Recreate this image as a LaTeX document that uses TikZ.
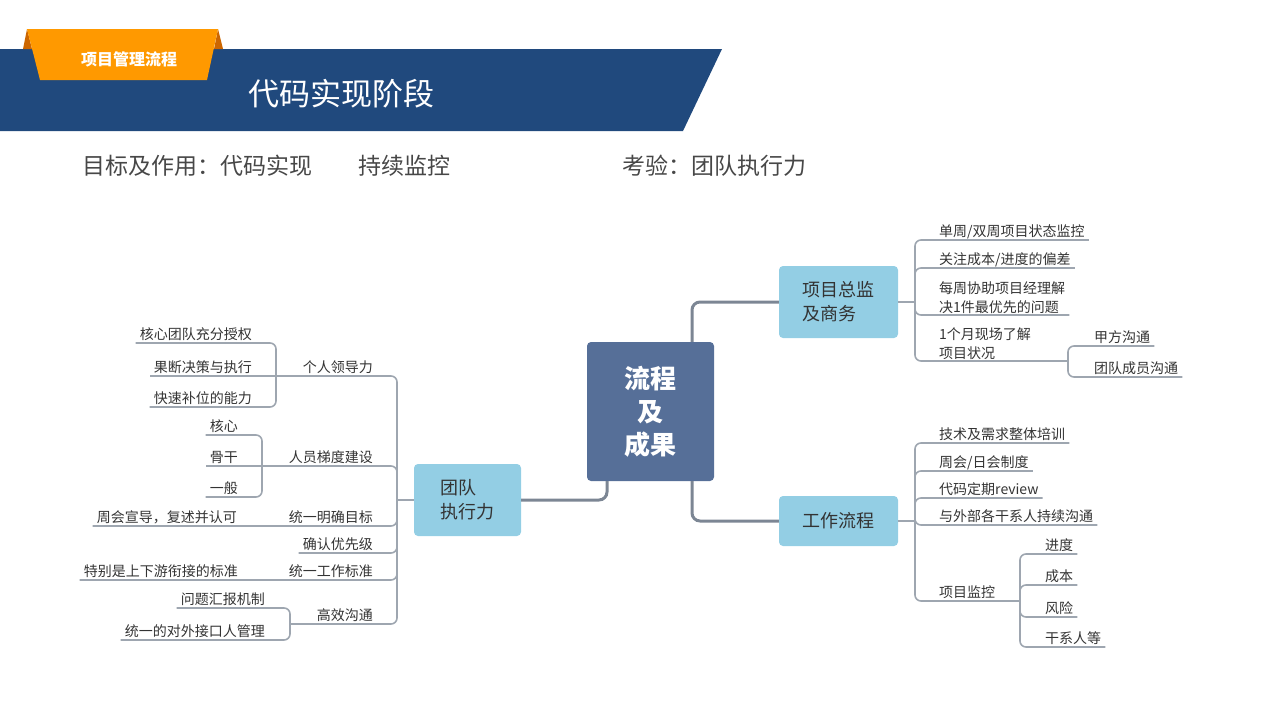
\documentclass[tikz,border=0pt]{standalone}
\usepackage{fontspec}
\setmainfont{Noto Sans CJK SC}
\usetikzlibrary{positioning}
\definecolor{cBar}{RGB}{32,73,125}
\definecolor{cTab}{RGB}{255,153,0}
\definecolor{cFlap}{RGB}{204,102,0}
\definecolor{cRoot}{RGB}{86,111,152}
\definecolor{cTopic}{RGB}{147,206,228}
\definecolor{cTrunk}{RGB}{124,134,148}
\definecolor{cLine}{RGB}{158,166,176}
\definecolor{cTxt}{RGB}{51,51,51}

\begin{document}
\begin{tikzpicture}[
  x=1pt, y=-1pt,
  tabtxt/.style={font=\fontsize{16}{18}\selectfont\bfseries, text=white, inner sep=0pt},
  title/.style={font=\fontsize{31}{34}\selectfont, text=white, inner sep=0pt},
  goal/.style={font=\fontsize{23}{26}\selectfont, text=cTxt!90, anchor=west, inner sep=0pt},
  root/.style={rounded corners=4pt, fill=cRoot, text=white, align=center,
    font=\fontsize{26}{33}\selectfont\bfseries,
    minimum width=127pt, minimum height=139pt},
  topic/.style={rounded corners=4pt, fill=cTopic, text=cTxt, align=left,
    font=\fontsize{18}{24}\selectfont, inner sep=0pt, minimum width=119pt},
  leafbase/.style={font=\fontsize{14}{19}\selectfont, text=cTxt, align=left,
    inner xsep=4pt, inner ysep=1.5pt},
  leaf/.style={leafbase, text height=11pt, text depth=2pt},
  trunk/.style={line width=3pt, draw=cTrunk, rounded corners=8pt},
  branch/.style={line width=1.6pt, draw=cLine, rounded corners=6pt},
]
\useasboundingbox (0,0) rectangle (1280,720);

% Header banner
\fill[cBar] (0,49) -- (722,49) -- (683,131) -- (0,131) -- cycle;
\fill[cFlap] (23,49) -- (27,29) -- (32,49) -- cycle;
\fill[cFlap] (214,49) -- (218,29) -- (223,49) -- cycle;
\fill[cTab] (27,29) -- (218,29) -- (207,80) -- (40,80) -- cycle;
\node[tabtxt] (tab) at (129,59) {项目管理流程};
\node[title] (title) at (341,94) {代码实现阶段};

% Goal line
\node[goal] (goal) at (82,166) {目标及作用：代码实现};
\node[goal] (watch) at (358,166) {持续监控};
\node[goal] (test) at (622,166) {考验：团队执行力};

% Central and main topics
\node[root] (ctr) at (650.5,411.5) {流程\\及\\成果};
\node[topic, minimum height=72pt] (pzj) at (838.5,302) {项目总监\\及商务};
\node[topic, minimum height=50pt] (gzlc) at (838.5,521) {工作流程};
\node[topic, minimum width=107pt, minimum height=72pt] (tdzx) at (467.5,500)
  {团队\\执行力};

\draw[trunk] ([xshift=41.5pt]ctr.north) |- (pzj.west);
\draw[trunk] ([xshift=41.5pt]ctr.south) |- (gzlc.west);
\draw[trunk] ([xshift=-43.5pt]ctr.south) |- (tdzx.east);

% Director branch
\coordinate (pzjfork) at (915,302);
\node[leaf, anchor=south west] (p1) at (935,240) {单周/双周项目状态监控};
\node[leaf, anchor=south west] (p2) at (935,268) {关注成本/进度的偏差};
\node[leafbase, anchor=south west] (p3) at (935,315)
  {每周协助项目经理解\\决1件最优先的问题};
\node[leafbase, anchor=south west] (p4) at (935,361) {1个月现场了解\\项目状况};
\coordinate (p4fork) at (1068,361);
\node[leaf, anchor=south west] (p4a) at (1090,346) {甲方沟通};
\node[leaf, anchor=south west] (p4b) at (1090,377) {团队成员沟通};

\draw[branch] (pzj.east) -- (pzjfork);
\draw[branch] (pzjfork) |- (p1.south west) -- (p1.south east);
\draw[branch] (pzjfork) |- (p2.south west) -- (p2.south east);
\draw[branch] (pzjfork) |- (p3.south west) -- (p3.south east);
\draw[branch] (pzjfork) |- (p4.south west) -- (p4fork);
\draw[branch] (p4fork) |- (p4a.south west) -- (p4a.south east);
\draw[branch] (p4fork) |- (p4b.south west) -- (p4b.south east);

% Workflow branch
\coordinate (gzlcfork) at (915,521);
\node[leaf, anchor=south west] (w1) at (935,443) {技术及需求整体培训};
\node[leaf, anchor=south west] (w2) at (935,471) {周会/日会制度};
\node[leaf, anchor=south west] (w3) at (935,498) {代码定期review};
\node[leaf, anchor=south west] (w4) at (935,525) {与外部各干系人持续沟通};
\node[leaf, anchor=south west] (w5) at (935,601) {项目监控};
\coordinate (w5fork) at (1020,601);
\node[leaf, anchor=south west] (w5a) at (1041,554) {进度};
\node[leaf, anchor=south west] (w5b) at (1041,585) {成本};
\node[leaf, anchor=south west] (w5c) at (1041,617) {风险};
\node[leaf, anchor=south west] (w5d) at (1041,647) {干系人等};

\draw[branch] (gzlc.east) -- (gzlcfork);
\draw[branch] (gzlcfork) |- (w1.south west) -- (w1.south east);
\draw[branch] (gzlcfork) |- (w2.south west) -- (w2.south east);
\draw[branch] (gzlcfork) |- (w3.south west) -- (w3.south east);
\draw[branch] (gzlcfork) |- (w4.south west) -- (w4.south east);
\draw[branch] (gzlcfork) |- (w5.south west) -- (w5fork);
\draw[branch] (w5fork) |- (w5a.south west) -- (w5a.south east);
\draw[branch] (w5fork) |- (w5b.south west) -- (w5b.south east);
\draw[branch] (w5fork) |- (w5c.south west) -- (w5c.south east);
\draw[branch] (w5fork) |- (w5d.south west) -- (w5d.south east);

% Team branch
\coordinate (tdzxfork) at (397,500);
\node[leaf, anchor=south east] (l1) at (377,376) {个人领导力};
\coordinate (l1fork) at (276,376);
\node[leaf, anchor=south east] (l1a) at (256,343) {核心团队充分授权};
\node[leaf, anchor=south east] (l1b) at (256,376) {果断决策与执行};
\node[leaf, anchor=south east] (l1c) at (256,407) {快速补位的能力};
\node[leaf, anchor=south east] (l2) at (377,466) {人员梯度建设};
\coordinate (l2fork) at (262,466);
\node[leaf, anchor=south east] (l2a) at (242,435) {核心};
\node[leaf, anchor=south east] (l2b) at (242,466) {骨干};
\node[leaf, anchor=south east] (l2c) at (242,497) {一般};
\node[leaf, anchor=south east] (l3) at (377,526) {统一明确目标};
\node[leaf, anchor=south east] (l3a) at (241,526) {周会宣导，复述并认可};
\node[leaf, anchor=south east] (l4) at (377,553) {确认优先级};
\node[leaf, anchor=south east] (l5) at (377,580) {统一工作标准};
\node[leaf, anchor=south east] (l5a) at (242,580) {特别是上下游衔接的标准};
\node[leaf, anchor=south east] (l6) at (377,624) {高效沟通};
\coordinate (l6fork) at (290,624);
\node[leaf, anchor=south east] (l6a) at (269,608) {问题汇报机制};
\node[leaf, anchor=south east] (l6b) at (269,640) {统一的对外接口人管理};

\draw[branch] (tdzx.west) -- (tdzxfork);
\draw[branch] (tdzxfork) |- (l1.south east) -- (l1fork);
\draw[branch] (l1fork) |- (l1a.south east) -- (l1a.south west);
\draw[branch] (l1fork) -- (l1b.south east) -- (l1b.south west);
\draw[branch] (l1fork) |- (l1c.south east) -- (l1c.south west);
\draw[branch] (tdzxfork) |- (l2.south east) -- (l2fork);
\draw[branch] (l2fork) |- (l2a.south east) -- (l2a.south west);
\draw[branch] (l2fork) -- (l2b.south east) -- (l2b.south west);
\draw[branch] (l2fork) |- (l2c.south east) -- (l2c.south west);
\draw[branch] (tdzxfork) |- (l3.south east) -- (l3a.south east) -- (l3a.south west);
\draw[branch] (tdzxfork) |- (l4.south east) -- (l4.south west);
\draw[branch] (tdzxfork) |- (l5.south east) -- (l5a.south east) -- (l5a.south west);
\draw[branch] (tdzxfork) |- (l6.south east) -- (l6fork);
\draw[branch] (l6fork) |- (l6a.south east) -- (l6a.south west);
\draw[branch] (l6fork) |- (l6b.south east) -- (l6b.south west);

\end{tikzpicture}
\end{document}
